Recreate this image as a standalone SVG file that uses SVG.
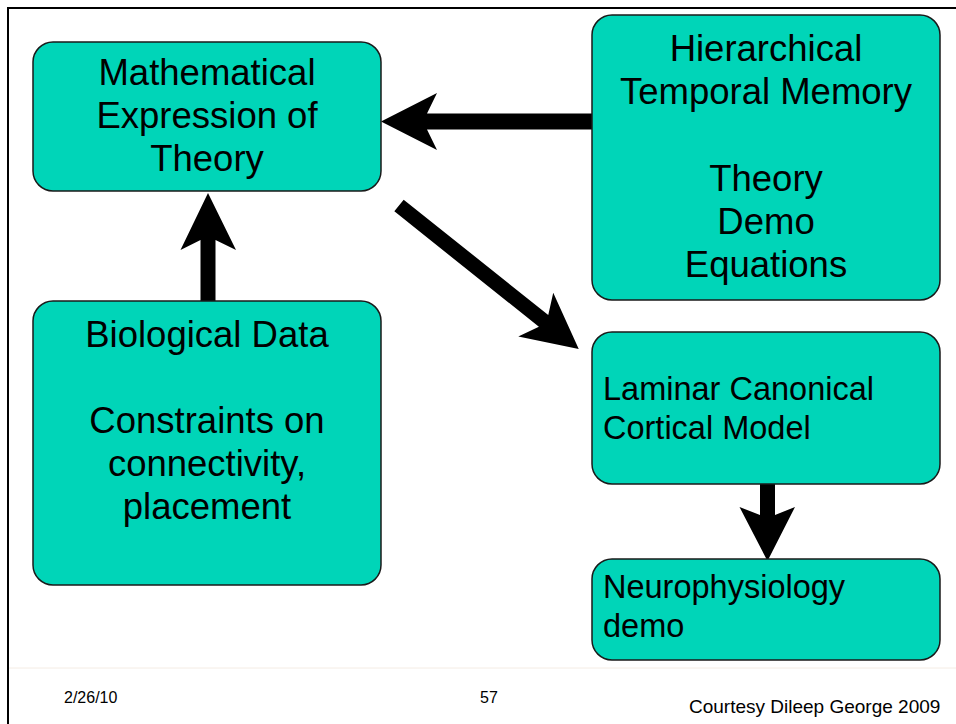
<svg xmlns="http://www.w3.org/2000/svg" width="956" height="724" viewBox="0 0 956 724">
  <style>
    .box { fill: #00D5B8; stroke: #1a1a1a; stroke-width: 1.5; }
    .t { font-family: "Liberation Sans", Arial, sans-serif; fill: #000; }
    .big { font-size: 36.5px; text-anchor: middle; }
    .mid { font-size: 32.5px; }
    .foot { font-size: 16px; }
    .arrow { fill: #000; }
  </style>
  <rect x="0" y="0" width="956" height="724" fill="#ffffff"/>
  <g id="frame">
    <path d="M8 724 V8 H956" fill="none" stroke="#000" stroke-width="2"/>
    <line x1="9" y1="668" x2="956" y2="668" stroke="#f4ece4" stroke-width="1"/>
  </g>

  <g id="connectors">
    <path class="arrow" d="M381 121.5 L437 93 L427 113.5 L592 113.5 L592 129.5 L427 129.5 L437 150 Z"/>
    <path class="arrow" transform="translate(399 205.5) rotate(38.6)" d="M0 -7.5 L185 -7.5 L175 -28 L230 0 L175 28 L185 7.5 L0 7.5 Z"/>
    <path class="arrow" d="M208 193 L236 250 L215.5 240 L215.5 301 L200.5 301 L200.5 240 L180.5 250 Z"/>
    <path class="arrow" d="M767.5 561 L795 507 L775 515 L775 484 L760 484 L760 515 L739.5 507 Z"/>
  </g>

  <g id="node-math">
    <rect class="box" x="33" y="42" width="348" height="149" rx="20"/>
    <text class="t big" x="207" y="85">Mathematical</text>
    <text class="t big" x="207" y="128">Expression of</text>
    <text class="t big" x="207" y="171">Theory</text>
  </g>

  <g id="node-htm">
    <rect class="box" x="592" y="15" width="348" height="285" rx="20"/>
    <text class="t big" x="766" y="61">Hierarchical</text>
    <text class="t big" x="766" y="104">Temporal Memory</text>
    <text class="t big" x="766" y="191">Theory</text>
    <text class="t big" x="766" y="234">Demo</text>
    <text class="t big" x="766" y="277">Equations</text>
  </g>

  <g id="node-bio">
    <rect class="box" x="33" y="301" width="348" height="284" rx="20"/>
    <text class="t big" x="207" y="347">Biological Data</text>
    <text class="t big" x="207" y="433">Constraints on</text>
    <text class="t big" x="207" y="476">connectivity,</text>
    <text class="t big" x="207" y="519">placement</text>
  </g>

  <g id="node-laminar">
    <rect class="box" x="592" y="332" width="348" height="152" rx="20"/>
    <text class="t mid" x="603" y="400">Laminar Canonical</text>
    <text class="t mid" x="603" y="439">Cortical Model</text>
  </g>

  <g id="node-neuro">
    <rect class="box" x="592" y="559" width="348" height="101" rx="20"/>
    <text class="t mid" x="603" y="598">Neurophysiology</text>
    <text class="t mid" x="603" y="637">demo</text>
  </g>

  <g id="footer">
    <text class="t foot" x="64" y="703">2/26/10</text>
    <text class="t foot" x="480" y="703">57</text>
    <text class="t" x="689" y="713" font-size="19">Courtesy Dileep George 2009</text>
  </g>
</svg>
